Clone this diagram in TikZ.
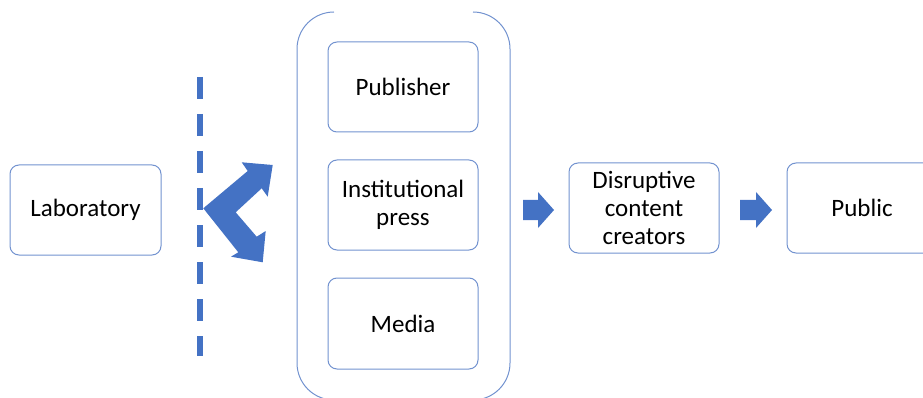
\documentclass[tikz,border=0pt]{standalone}
\usepackage{fontspec}
\setmainfont{Carlito}
\definecolor{boxc}{RGB}{114,146,207}
\definecolor{fillc}{RGB}{68,114,196}
\begin{document}
\begin{tikzpicture}[x=1pt,y=-1pt,
  box/.style={draw=boxc, line width=1pt, rounded corners=9pt, minimum width=150pt,
    minimum height=90pt, align=center, font=\fontsize{25}{28}\selectfont, inner sep=0pt},
  blockarrow/.style={fill=fillc, draw=none}]
\useasboundingbox (0,0) rectangle (923,398);
\clip (0,0) rectangle (923,398);
% boxes
\node[box, minimum width=151pt] (lab) at (85.5,210) {Laboratory};
\node[box] (pub) at (403,87) {Publisher};
\node[box] (inst) at (403,205) {Institutional\\press};
\node[box, minimum height=91pt] (media) at (403,323.5) {Media};
\node[box] (dis) at (644,208) {Disruptive\\content\\creators};
\node[box] (public) at (862,208) {Public};
% container brackets
\draw[boxc, line width=1pt] (334,12) arc[start angle=270, end angle=180, radius=37] -- (297,363) arc[start angle=180, end angle=90, radius=37];
\draw[boxc, line width=1pt] (473,12) arc[start angle=270, end angle=360, radius=37] -- (510,363) arc[start angle=0, end angle=90, radius=37];
% dashed line
\coordinate (dtop) at (200,77);
\coordinate (dbot) at (200,356);
\draw[fillc, line width=6pt, dash pattern=on 22pt off 15pt] (dtop) -- (dbot);
% bent double arrow
\fill[blockarrow] (203.3,208.3) -- (247.7,171) -- (241.7,162.3) -- (272.7,165) -- (267.7,196.7) -- (261.7,188.3) -- (235.7,212.3) -- (256.7,236.7) -- (265.7,231) -- (262.7,262.3) -- (231,256.7) -- (238.3,252.3) -- cycle;
% block arrows
\fill[blockarrow] (523,200) -- (538,200) -- (538,192) -- (554,210) -- (538,228) -- (538,220) -- (523,220) -- cycle;
\fill[blockarrow] (740,200) -- (756,200) -- (756,192) -- (772,210) -- (756,228) -- (756,220) -- (740,220) -- cycle;
\end{tikzpicture}
\end{document}
